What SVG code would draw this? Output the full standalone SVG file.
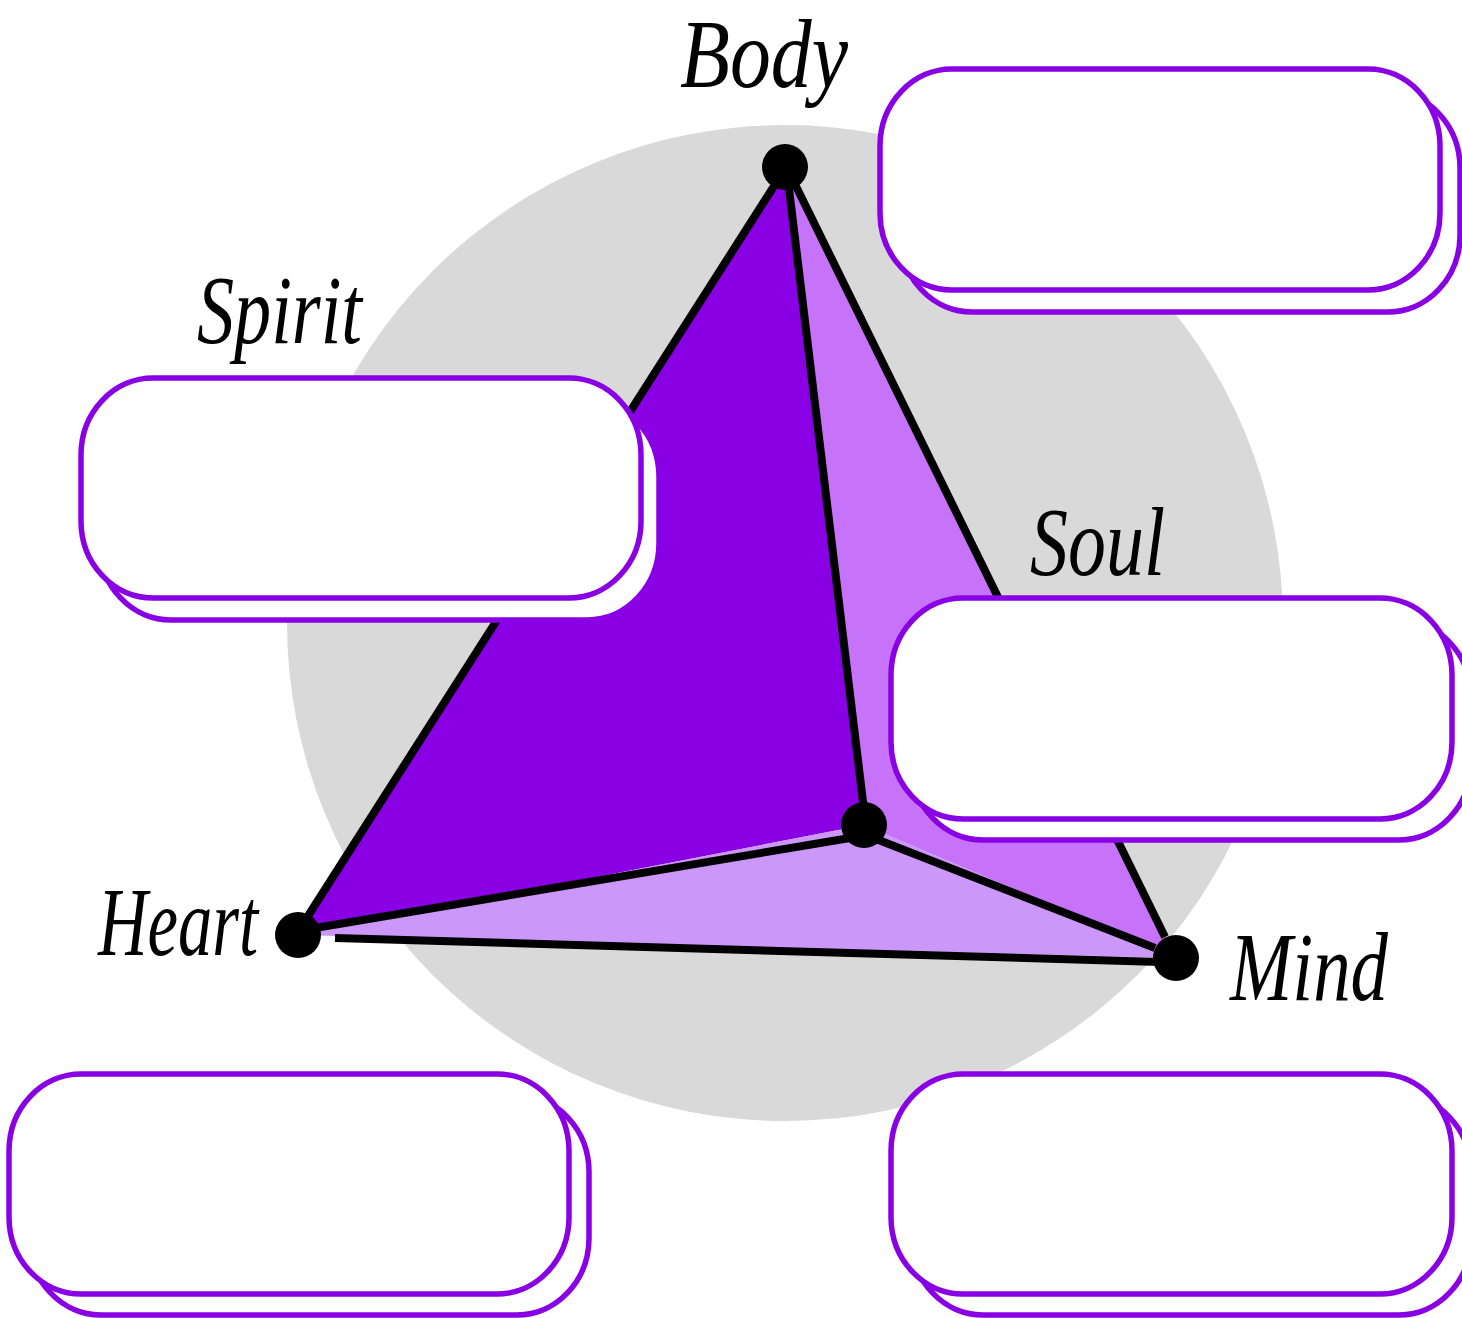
<svg xmlns="http://www.w3.org/2000/svg" width="1462" height="1318" viewBox="0 0 1462 1318">
<style>
.box{fill:#ffffff;stroke:#8a00e4;stroke-width:5.5}
.edge{stroke:#000000;stroke-width:8;stroke-linecap:butt;fill:none}
.dot{fill:#000000}
.lbl{font-family:"Liberation Serif","DejaVu Serif",serif;font-style:italic;font-size:98px;fill:#000000}
</style>
<rect width="1462" height="1318" fill="#ffffff"/>
<circle cx="785" cy="623" r="498" fill="#d9d9d9"/>
<g id="faces">
<polygon points="785,167 298,935 864,825" fill="#8a00e4"/>
<polygon points="785,167 864,825 1176,958" fill="#c673f9"/>
<polygon points="298,935 864,825 1176,958" fill="#cb98fa"/>
</g>
<g id="connectors">
<line class="edge" x1="783" y1="172" x2="308" y2="916"/>
<line class="edge" x1="787" y1="172" x2="864" y2="810"/>
<line class="edge" x1="789" y1="172" x2="1165" y2="937"/>
<line class="edge" x1="315" y1="928" x2="850" y2="838"/>
<line class="edge" x1="876" y1="839" x2="1155" y2="948"/>
<line class="edge" x1="335" y1="938" x2="1160" y2="962"/>
</g>
<g id="node-body"><circle class="dot" cx="785" cy="167" r="23"/><text class="lbl" x="680" y="87" font-size="90" textLength="168" lengthAdjust="spacingAndGlyphs">Body</text></g>
<g id="node-heart"><circle class="dot" cx="298" cy="935" r="23"/><text class="lbl" x="98" y="955" textLength="160" lengthAdjust="spacingAndGlyphs">Heart</text></g>
<g id="node-mind"><circle class="dot" cx="1176" cy="958" r="23"/><text class="lbl" x="1230" y="1000" textLength="158" lengthAdjust="spacingAndGlyphs">Mind</text></g>
<g id="node-center"><circle class="dot" cx="864" cy="825" r="23"/></g>
<g id="node-spirit-label"><text class="lbl" x="197" y="343" textLength="165" lengthAdjust="spacingAndGlyphs">Spirit</text></g>
<g id="node-soul-label"><text class="lbl" x="1030" y="575" textLength="135" lengthAdjust="spacingAndGlyphs">Soul</text></g>
<g id="box-top-right">
<rect class="box" x="900" y="91" width="560" height="221" rx="72" ry="77"/>
<rect class="box" x="880" y="69" width="560" height="221" rx="72" ry="77"/>
</g>
<g id="box-spirit">
<rect class="box" x="99" y="400" width="560" height="220" rx="72" ry="77"/>
<rect class="box" x="81" y="378" width="560" height="220" rx="72" ry="77"/>
</g>
<g id="box-soul">
<rect class="box" x="911" y="620" width="560" height="220" rx="72" ry="77"/>
<rect class="box" x="891" y="598" width="561" height="221" rx="72" ry="77"/>
</g>
<g id="box-bottom-left">
<rect class="box" x="29" y="1095" width="560" height="220" rx="72" ry="77"/>
<rect class="box" x="9" y="1074" width="560" height="220" rx="72" ry="77"/>
</g>
<g id="box-bottom-right">
<rect class="box" x="911" y="1095" width="560" height="220" rx="72" ry="77"/>
<rect class="box" x="891" y="1074" width="561" height="220" rx="72" ry="77"/>
</g>
</svg>
